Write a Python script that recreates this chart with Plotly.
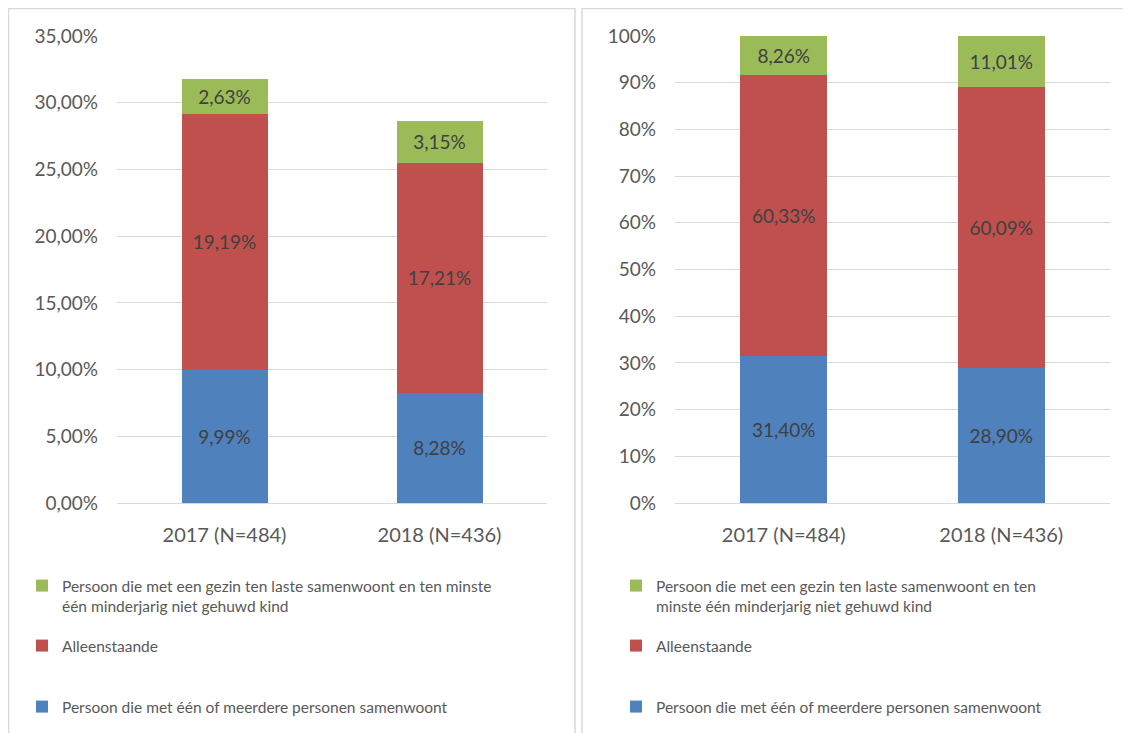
import plotly.graph_objects as go

# page has an 8px body margin, so the figure is drawn 8px smaller and coordinates shifted
OFF = 8
W, H = 1131 - OFF, 733 - OFF

categories = ["2017 (N=484)", "2018 (N=436)"]
series_names = [
    "Persoon die met één of meerdere personen samenwoont",
    "Alleenstaande",
    "Persoon die met een gezin ten laste samenwoont en ten minste één minderjarig niet gehuwd kind",
]
# left chart: share of all people (in %)
left_samenwonend = [9.99, 8.28]
left_alleen = [19.19, 17.21]
left_gezin = [2.63, 3.15]
# right chart: distribution within the group (in %)
right_samenwonend = [31.40, 28.90]
right_alleen = [60.33, 60.09]
right_gezin = [8.26, 11.01]

colors = ["#4F81BD", "#C0504D", "#9BBB59"]
FONT = "Lato"
GRID = "#D9D9D9"


def px(x):
    return (x - OFF) / W


def py(y):
    return 1 - (y - OFF) / H


fig = go.Figure()

left_vals = [left_samenwonend, left_alleen, left_gezin]
right_vals = [right_samenwonend, right_alleen, right_gezin]
left_legends = ["legend3", "legend2", "legend"]
right_legends = ["legend6", "legend5", "legend4"]
left_names = [series_names[0], series_names[1],
              "Persoon die met een gezin ten laste samenwoont en ten minste<br>één minderjarig niet gehuwd kind"]
right_names = [series_names[0], series_names[1],
               "Persoon die met een gezin ten laste samenwoont en ten<br>minste één minderjarig niet gehuwd kind"]

for i in range(3):
    fig.add_trace(go.Bar(
        x=categories, y=left_vals[i], name=left_names[i], marker_color=colors[i],
        marker_line_width=0, texttemplate="%{y:.2f}%", textposition="inside",
        insidetextanchor="middle", textfont=dict(size=19, color="#404040", family=FONT),
        xaxis="x", yaxis="y", legend=left_legends[i], showlegend=True,
    ))
for i in range(3):
    fig.add_trace(go.Bar(
        x=categories, y=right_vals[i], name=right_names[i], marker_color=colors[i],
        marker_line_width=0, texttemplate="%{y:.2f}%", textposition="inside",
        insidetextanchor="middle", textfont=dict(size=19, color="#404040", family=FONT),
        xaxis="x2", yaxis="y2", legend=right_legends[i], showlegend=True,
    ))

tickfont = dict(size=19, color="#595959", family=FONT)
xtickfont = dict(size=20, color="#595959", family=FONT)
ydom = [py(503), py(36)]

fig.update_layout(
    width=W, height=H, autosize=False,
    margin=dict(l=0, r=0, t=0, b=0, autoexpand=False),
    paper_bgcolor="white", plot_bgcolor="white",
    barmode="stack", bargap=0.6,
    separators=",.",
    font=dict(family=FONT, color="#595959"),
    xaxis=dict(domain=[px(117), px(547)], tickfont=xtickfont, showgrid=False,
               showline=True, linecolor=GRID, ticks="", ticklabelstandoff=14, anchor="y"),
    yaxis=dict(domain=ydom, range=[0, 35], dtick=5, tickformat=".2f", ticksuffix="%",
               tickfont=tickfont, gridcolor=GRID, zeroline=False, ticklabelstandoff=18,
               anchor="x"),
    xaxis2=dict(domain=[px(675), px(1110)], tickfont=xtickfont, showgrid=False,
                showline=True, linecolor=GRID, ticks="", ticklabelstandoff=14, anchor="y2"),
    yaxis2=dict(domain=ydom, range=[0, 100], dtick=10, ticksuffix="%",
                tickfont=tickfont, gridcolor=GRID, zeroline=False, ticklabelstandoff=18,
                anchor="x2"),
)

legfont = dict(size=15.5, color="#595959", family=FONT)
leg_common = dict(font=legfont, bgcolor="rgba(0,0,0,0)", valign="top",
                  itemwidth=30, tracegroupgap=0, xanchor="left")
fig.update_layout(
    legend=dict(x=px(22), y=py(569), yanchor="top", **leg_common),
    legend2=dict(x=px(22), y=py(646), yanchor="middle", **leg_common),
    legend3=dict(x=px(22), y=py(707), yanchor="middle", **leg_common),
    legend4=dict(x=px(616), y=py(569), yanchor="top", **leg_common),
    legend5=dict(x=px(616), y=py(646), yanchor="middle", **leg_common),
    legend6=dict(x=px(616), y=py(707), yanchor="middle", **leg_common),
)

# panel borders
fig.add_shape(type="rect", xref="paper", yref="paper", x0=px(8.5), x1=px(575), y0=py(760), y1=py(8.5),
              line=dict(color=GRID, width=1.5), layer="below")
fig.add_shape(type="rect", xref="paper", yref="paper", x0=px(582), x1=px(1150), y0=py(760), y1=py(8.5),
              line=dict(color=GRID, width=1.5), layer="below")

fig.write_html("out.html")
